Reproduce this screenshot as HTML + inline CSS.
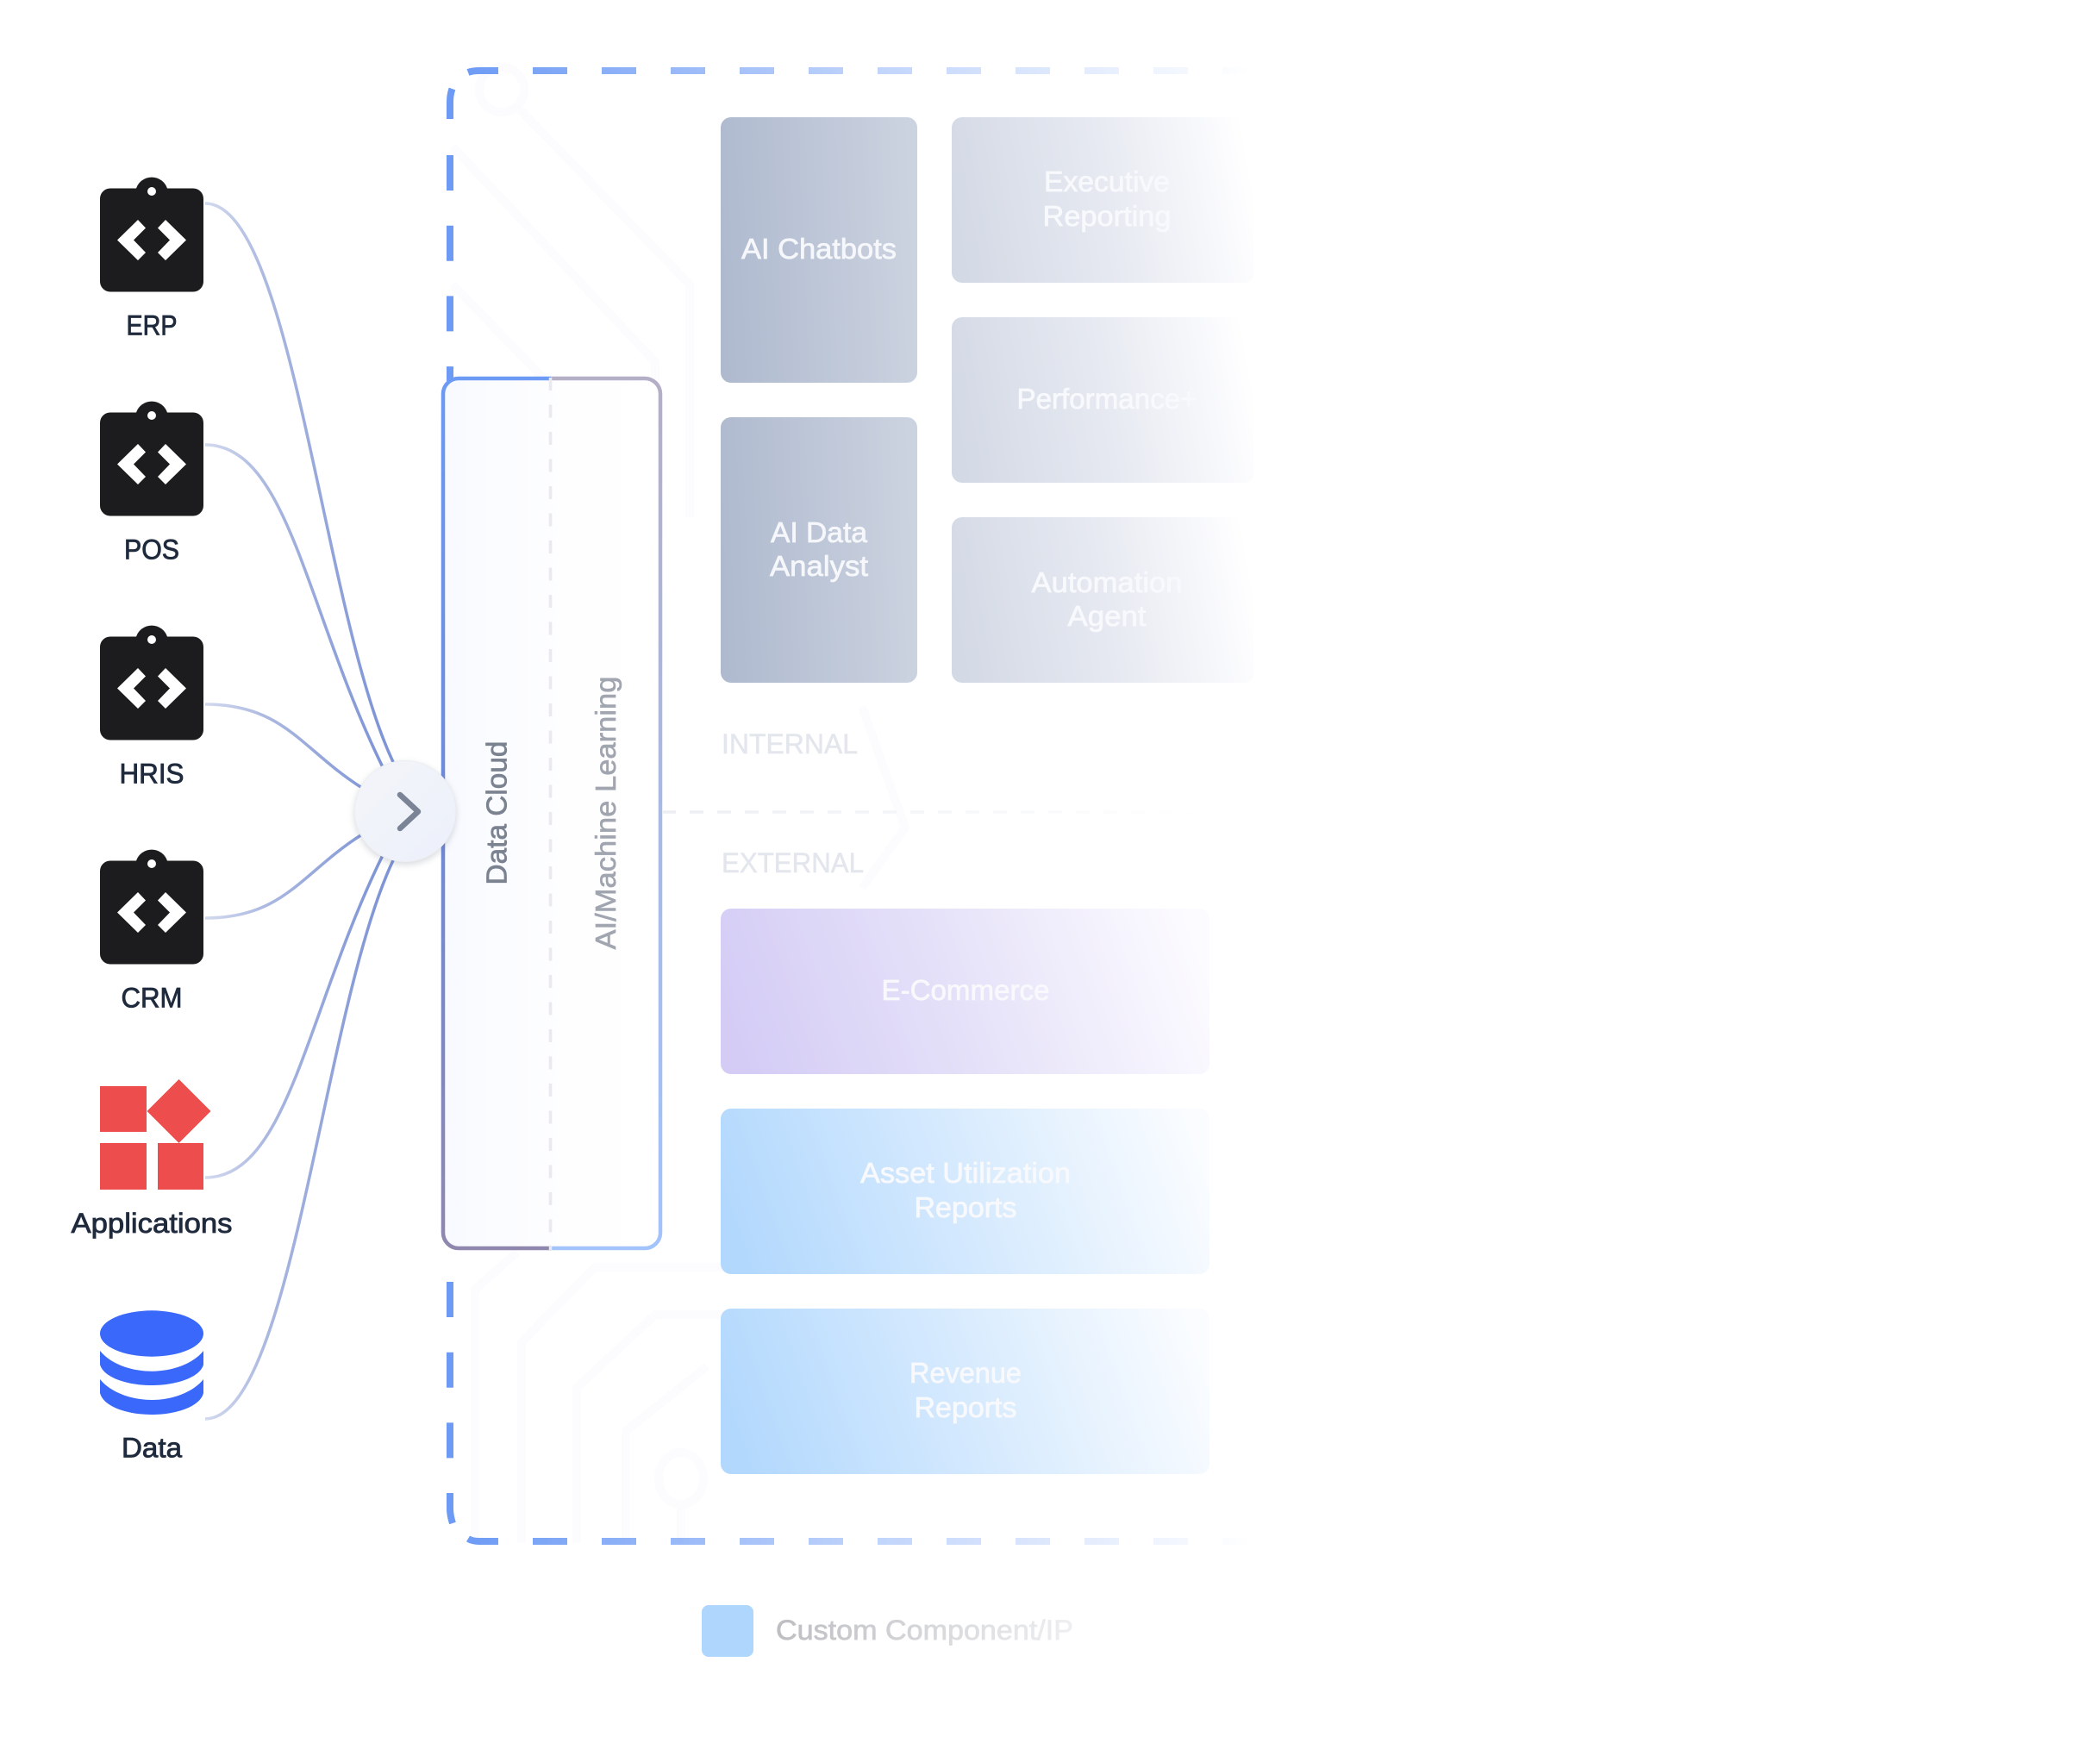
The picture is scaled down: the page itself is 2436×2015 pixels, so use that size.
<!DOCTYPE html>
<html><head><meta charset="utf-8">
<style>
html,body{margin:0;padding:0;background:#fff;width:2436px;height:2015px;overflow:hidden}
svg{display:block}
text{font-family:"Liberation Sans",sans-serif;text-anchor:middle}
.lb{font-size:32px;fill:#1f2a3d;stroke:#1f2a3d;stroke-width:.8px}
.t{font-size:33px;fill:#f6f7fb;stroke:#f6f7fb;stroke-width:.7px}
.t2{font-size:33px;fill:#f8f9fc;stroke:#f8f9fc;stroke-width:.7px}
</style></head><body>
<svg width="2436" height="2015" viewBox="0 0 2436 2015" xmlns="http://www.w3.org/2000/svg">
<defs>
<linearGradient id="ln1" gradientUnits="userSpaceOnUse" x1="238" y1="0" x2="440" y2="0"><stop offset="0" stop-color="#d3daef"/><stop offset=".35" stop-color="#abb8e0"/><stop offset="1" stop-color="#7f95d6"/></linearGradient>
<linearGradient id="dash" gradientUnits="userSpaceOnUse" x1="530" y1="0" x2="1450" y2="0"><stop offset="0" stop-color="#6c9af5"/><stop offset=".5" stop-color="#6c9af5" stop-opacity=".45"/><stop offset="1" stop-color="#6c9af5" stop-opacity="0"/></linearGradient>
<linearGradient id="boxf" x1="0" y1="0" x2="1" y2="0"><stop offset="0" stop-color="#f8faff"/><stop offset=".6" stop-color="#fefeff"/><stop offset="1" stop-color="#fff"/></linearGradient>
<linearGradient id="bl" gradientUnits="userSpaceOnUse" x1="0" y1="437" x2="0" y2="1450"><stop offset="0" stop-color="#6c9af5"/><stop offset=".5" stop-color="#6e8ad8"/><stop offset="1" stop-color="#8f87ad"/></linearGradient>
<linearGradient id="br" gradientUnits="userSpaceOnUse" x1="0" y1="437" x2="0" y2="1450"><stop offset="0" stop-color="#b4aec6"/><stop offset=".5" stop-color="#a8b9e2"/><stop offset="1" stop-color="#a3c3fb"/></linearGradient>
<linearGradient id="ai" x1="0" y1=".53" x2="1" y2=".47"><stop offset="0" stop-color="#afbacf"/><stop offset="1" stop-color="#ccd3e0"/></linearGradient>
<linearGradient id="gr" x1="0" y1=".55" x2="1" y2=".45"><stop offset="0" stop-color="#d3d9e5"/><stop offset=".5" stop-color="#e6e9f1"/><stop offset=".85" stop-color="#f7f8fb"/><stop offset="1" stop-color="#fff"/></linearGradient>
<linearGradient id="pu" x1="0" y1=".56" x2="1" y2=".44"><stop offset="0" stop-color="#d4ccf5"/><stop offset=".5" stop-color="#e6e2f9"/><stop offset="1" stop-color="#fcfbff"/></linearGradient>
<linearGradient id="bu" x1="0" y1=".56" x2="1" y2=".44"><stop offset="0" stop-color="#b2d8fd"/><stop offset=".5" stop-color="#d6eafe"/><stop offset="1" stop-color="#fafcff"/></linearGradient>
<linearGradient id="hd" gradientUnits="userSpaceOnUse" x1="768" y1="0" x2="1400" y2="0"><stop offset="0" stop-color="#eceef3"/><stop offset="1" stop-color="#fff"/></linearGradient>
<linearGradient id="cc" x1="0" y1="0" x2="1" y2="1"><stop offset="0" stop-color="#f4f5f9"/><stop offset="1" stop-color="#ecf0fb"/></linearGradient>
<linearGradient id="lg" gradientUnits="userSpaceOnUse" x1="900" y1="0" x2="1245" y2="0"><stop offset="0" stop-color="#bcbec2"/><stop offset="1" stop-color="#eeeff1"/></linearGradient>
<g id="api">
<path d="M128 218.500H158A19 19 0 0 1 194 218.500H224A12 12 0 0 1 236 230.500V326.500A12 12 0 0 1 224 338.500H128A12 12 0 0 1 116 326.500V230.500A12 12 0 0 1 128 218.500Z" fill="#1c1c1f"/>
<circle cx="176" cy="222" r="5" fill="#fff"/>
<polygon points="136,278.500 160,255 169,264.500 155,278.500 169,293 160,302" fill="#fff"/>
<polygon points="216,278.500 192,255 183,264.500 197,278.500 183,293 192,302" fill="#fff"/>
</g>
</defs>

<!-- faint background -->
<g fill="none" stroke="#fcfcfe" stroke-width="10">
<circle cx="582" cy="104" r="26"/>
<path d="M600 124 L800 330 V600"/>
<path d="M525 170 L760 420 V560"/>
<path d="M525 330 L690 500"/>
<path d="M551 1790 V1496 L600 1452"/>
<path d="M605 1790 V1557 L690 1470 H840"/>
<path d="M669 1790 V1610 L760 1525 H840"/>
<path d="M726 1790 V1660 L820 1585"/>
<ellipse cx="790" cy="1715" rx="26" ry="30"/>
<path d="M790 1745 V1790"/>
<path d="M1000 820 L1050 960 L1000 1030"/>
</g>

<!-- connectors -->
<g fill="none" stroke="url(#ln1)" stroke-width="3.500">
<path d="M238 236C340 236 375 720 458 888"/>
<path d="M238 516C335 516 355 710 445 892"/>
<path d="M238 817C330 817 350 870 420 914"/>
<path d="M238 1065C330 1065 350 1012 420 968"/>
<path d="M238 1366C335 1366 355 1172 445 990"/>
<path d="M238 1646C340 1646 375 1162 458 994"/>
</g>

<!-- dashed boundary -->
<g fill="none" stroke="#6c9af5" stroke-width="8">
<path d="M522 138V118Q522 110 524.500 103"/>
<path d="M522 180V442" stroke-dasharray="41 40.700"/>
<path d="M522 1487V1692" stroke-dasharray="41 40.700"/>
<path d="M522 1732V1750Q522 1758 525 1767"/>
</g>
<g fill="none" stroke="url(#dash)" stroke-width="8">
<path d="M543 84Q548 82 556 82H578"/>
<path d="M618 82H1460" stroke-dasharray="40 40"/>
<path d="M543 1785Q548 1788 556 1788H578"/>
<path d="M618 1788H1460" stroke-dasharray="40 40"/>
</g>

<!-- inner box -->
<rect x="514" y="439" width="252" height="1009" rx="18" fill="url(#boxf)"/>
<path d="M639 439H532A18 18 0 0 0 514 457V1430A18 18 0 0 0 532 1448H639" fill="none" stroke="url(#bl)" stroke-width="4.500"/>
<path d="M639 439H748A18 18 0 0 1 766 457V1430A18 18 0 0 1 748 1448H639" fill="none" stroke="url(#br)" stroke-width="4.500"/>
<path d="M638.500 438V1450" fill="none" stroke="#e8eaf0" stroke-width="3.500" stroke-dasharray="15 16.500"/>
<path d="M768 942H1400" fill="none" stroke="url(#hd)" stroke-width="3.500" stroke-dasharray="16 16"/>

<text transform="translate(587.500 943) rotate(-90)" font-size="33" fill="#7b8290" stroke="#7b8290" stroke-width=".7" textLength="167" lengthAdjust="spacingAndGlyphs">Data Cloud</text>
<text transform="translate(714 943) rotate(-90)" font-size="33" fill="#a0a5b0" stroke="#a0a5b0" stroke-width=".6" textLength="317" lengthAdjust="spacingAndGlyphs">AI/Machine Learning</text>

<!-- hub -->
<circle cx="470" cy="941" r="58.500" fill="url(#cc)" stroke="#eceef2" stroke-width="1" style="filter:drop-shadow(0 3px 4px rgba(60,70,90,.2))"/>
<path d="M464 922L485 941.500L464 961" fill="none" stroke="#7a8496" stroke-width="6.500" stroke-linecap="round" stroke-linejoin="round"/>

<!-- sources -->
<use href="#api"/>
<use href="#api" y="260"/>
<use href="#api" y="520"/>
<use href="#api" y="780"/>
<g fill="#ee4d4d">
<rect x="116" y="1260" width="54" height="53"/>
<rect x="116" y="1326" width="54" height="54"/>
<rect x="183" y="1326" width="53" height="54"/>
<polygon points="207.500,1252 244.500,1289 207.500,1326 170.500,1289"/>
</g>
<g fill="#3968fb">
<ellipse cx="176" cy="1547" rx="60" ry="26.700"/>
<path d="M116 1567C128 1582 152 1590.700 176 1590.700S224 1582 236 1567V1583C232 1598 204 1607 176 1607S120 1598 116 1583Z"/>
<path d="M116 1600C128 1615 152 1624 176 1624S224 1615 236 1600V1616C232 1632 204 1641 176 1641S120 1632 116 1616Z"/>
</g>
<text class="lb" x="176" y="388.500" textLength="59" lengthAdjust="spacingAndGlyphs">ERP</text>
<text class="lb" x="176" y="648.500" textLength="64" lengthAdjust="spacingAndGlyphs">POS</text>
<text class="lb" x="176" y="908.500" textLength="75" lengthAdjust="spacingAndGlyphs">HRIS</text>
<text class="lb" x="176" y="1168.500" textLength="71" lengthAdjust="spacingAndGlyphs">CRM</text>
<text class="lb" x="176" y="1430" textLength="187" lengthAdjust="spacingAndGlyphs">Applications</text>
<text class="lb" x="176" y="1690.500" textLength="70" lengthAdjust="spacingAndGlyphs">Data</text>

<!-- tiles -->
<rect x="836" y="136" width="228" height="308" rx="12" fill="url(#ai)"/>
<rect x="836" y="484" width="228" height="308" rx="12" fill="url(#ai)"/>
<rect x="1104" y="136" width="351" height="192" rx="12" fill="url(#gr)"/>
<rect x="1104" y="368" width="351" height="192" rx="12" fill="url(#gr)"/>
<rect x="1104" y="600" width="351" height="192" rx="12" fill="url(#gr)"/>
<rect x="836" y="1054" width="567" height="192" rx="12" fill="url(#pu)"/>
<rect x="836" y="1286" width="567" height="192" rx="12" fill="url(#bu)"/>
<rect x="836" y="1518" width="567" height="192" rx="12" fill="url(#bu)"/>

<text class="t" x="950" y="300" textLength="180" lengthAdjust="spacingAndGlyphs">AI Chatbots</text>
<text class="t" x="950" y="629" textLength="112" lengthAdjust="spacingAndGlyphs">AI Data</text>
<text class="t" x="950" y="668" textLength="114" lengthAdjust="spacingAndGlyphs">Analyst</text>
<text class="t2" x="1284" y="222" textLength="146" lengthAdjust="spacingAndGlyphs">Executive</text>
<text class="t2" x="1284" y="262" textLength="149" lengthAdjust="spacingAndGlyphs">Reporting</text>
<text class="t2" x="1284" y="474" textLength="209" lengthAdjust="spacingAndGlyphs">Performance+</text>
<text class="t2" x="1284" y="687" textLength="175" lengthAdjust="spacingAndGlyphs">Automation</text>
<text class="t2" x="1284" y="726" textLength="91" lengthAdjust="spacingAndGlyphs">Agent</text>
<text class="t2" x="1120" y="1160" textLength="195" lengthAdjust="spacingAndGlyphs">E-Commerce</text>
<text class="t2" x="1120" y="1372" textLength="244" lengthAdjust="spacingAndGlyphs">Asset Utilization</text>
<text class="t2" x="1120" y="1412" textLength="119" lengthAdjust="spacingAndGlyphs">Reports</text>
<text class="t2" x="1120" y="1604" textLength="130" lengthAdjust="spacingAndGlyphs">Revenue</text>
<text class="t2" x="1120" y="1644" textLength="119" lengthAdjust="spacingAndGlyphs">Reports</text>

<text x="916" y="874" font-size="32" fill="#e3e6ec" stroke="#e3e6ec" stroke-width=".5" textLength="158" lengthAdjust="spacingAndGlyphs">INTERNAL</text>
<text x="919.500" y="1012" font-size="32" fill="#e3e6ec" stroke="#e3e6ec" stroke-width=".5" textLength="165" lengthAdjust="spacingAndGlyphs">EXTERNAL</text>

<!-- legend -->
<rect x="814" y="1862" width="60" height="60" rx="8" fill="#afd6fd"/>
<text x="1072.500" y="1902" font-size="32" fill="url(#lg)" stroke="url(#lg)" stroke-width=".7" textLength="345" lengthAdjust="spacingAndGlyphs">Custom Component/IP</text>
</svg>
</body></html>
